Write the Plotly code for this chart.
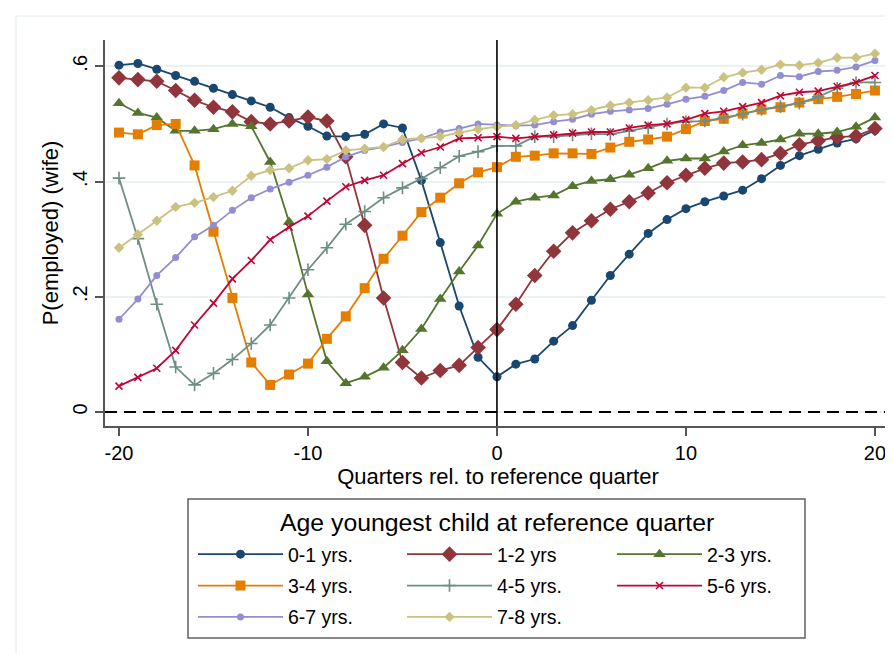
import plotly.graph_objects as go

quarters = list(range(-20, 21))

age_0_1 = [0.602, 0.605, 0.595, 0.584, 0.574, 0.562, 0.551, 0.540, 0.529, 0.511, 0.496,
           0.479, 0.478, 0.482, 0.500, 0.493, 0.402, 0.294, 0.184, 0.095, 0.061,
           0.083, 0.092, 0.123, 0.150, 0.194, 0.237, 0.274, 0.310, 0.334, 0.353,
           0.365, 0.375, 0.385, 0.405, 0.428, 0.445, 0.456, 0.467, 0.474, 0.489]
age_1_2 = [0.580, 0.577, 0.574, 0.558, 0.541, 0.529, 0.521, 0.504, 0.500, 0.505, 0.512,
           0.505, 0.443, 0.324, 0.198, 0.086, 0.059, 0.072, 0.081, 0.112, 0.143,
           0.187, 0.237, 0.279, 0.311, 0.332, 0.352, 0.365, 0.380, 0.398, 0.411,
           0.423, 0.432, 0.434, 0.438, 0.449, 0.464, 0.471, 0.477, 0.479, 0.492]
age_2_3 = [0.536, 0.519, 0.511, 0.488, 0.488, 0.491, 0.500, 0.496, 0.434, 0.330, 0.204,
           0.088, 0.050, 0.061, 0.077, 0.107, 0.144, 0.196, 0.244, 0.289, 0.344,
           0.365, 0.372, 0.376, 0.392, 0.401, 0.404, 0.412, 0.423, 0.436, 0.440,
           0.440, 0.452, 0.463, 0.467, 0.473, 0.483, 0.483, 0.486, 0.495, 0.511]
age_3_4 = [0.485, 0.482, 0.498, 0.500, 0.428, 0.313, 0.198, 0.086, 0.047, 0.065, 0.084,
           0.127, 0.166, 0.215, 0.266, 0.306, 0.347, 0.372, 0.397, 0.416, 0.425,
           0.443, 0.445, 0.449, 0.449, 0.448, 0.459, 0.469, 0.473, 0.478, 0.491,
           0.505, 0.509, 0.518, 0.525, 0.529, 0.537, 0.543, 0.547, 0.552, 0.558]
age_4_5 = [0.406, 0.301, 0.187, 0.078, 0.047, 0.067, 0.091, 0.119, 0.151, 0.198, 0.247,
           0.285, 0.326, 0.348, 0.372, 0.389, 0.405, 0.424, 0.444, 0.452, 0.462,
           0.462, 0.478, 0.478, 0.481, 0.483, 0.482, 0.488, 0.493, 0.500, 0.504,
           0.505, 0.511, 0.517, 0.525, 0.530, 0.536, 0.547, 0.562, 0.572, 0.572]
age_5_6 = [0.045, 0.060, 0.076, 0.107, 0.151, 0.189, 0.231, 0.263, 0.299, 0.321, 0.340,
           0.366, 0.391, 0.402, 0.411, 0.431, 0.450, 0.460, 0.475, 0.476, 0.478,
           0.475, 0.478, 0.481, 0.484, 0.486, 0.486, 0.493, 0.498, 0.500, 0.507,
           0.518, 0.522, 0.530, 0.537, 0.549, 0.555, 0.557, 0.565, 0.572, 0.584]
age_6_7 = [0.161, 0.196, 0.237, 0.268, 0.304, 0.324, 0.350, 0.372, 0.387, 0.399, 0.411,
           0.425, 0.443, 0.454, 0.460, 0.468, 0.475, 0.486, 0.492, 0.500, 0.498,
           0.497, 0.498, 0.504, 0.508, 0.517, 0.522, 0.524, 0.527, 0.534, 0.543,
           0.548, 0.558, 0.572, 0.569, 0.584, 0.582, 0.591, 0.593, 0.599, 0.610]
age_7_8 = [0.285, 0.308, 0.332, 0.356, 0.363, 0.373, 0.384, 0.410, 0.420, 0.423, 0.437,
           0.439, 0.454, 0.457, 0.460, 0.473, 0.475, 0.478, 0.485, 0.491, 0.495,
           0.498, 0.507, 0.515, 0.517, 0.524, 0.532, 0.537, 0.541, 0.546, 0.563,
           0.563, 0.581, 0.589, 0.594, 0.603, 0.602, 0.606, 0.615, 0.615, 0.622]

series_labels = ["0-1 yrs.", "1-2 yrs", "2-3 yrs.", "3-4 yrs.", "4-5 yrs.",
                 "5-6 yrs.", "6-7 yrs.", "7-8 yrs."]
series_values = [age_0_1, age_1_2, age_2_3, age_3_4, age_4_5, age_5_6, age_6_7, age_7_8]
colors = ["#1a476f", "#90353b", "#55752f", "#e37e00", "#6e8e84", "#c10534",
          "#938dd2", "#cac27e"]
symbols = ["circle", "diamond", "triangle-up", "square", "cross-thin", "x-thin",
           "circle", "diamond"]
sizes = [9, 12, 11, 10, 9, 7, 7, 8]
legend_ids = ["legend", "legend2", "legend3"]  # three legend columns

tick_x = [-20, -10, 0, 10, 20]
tick_x_text = ["-20", "-10", "0", "10", "20"]
tick_y = [0, 0.2, 0.4, 0.6]
tick_y_text = ["0", ".2", ".4", ".6"]

FONT = "Liberation Sans, Arial, sans-serif"
L, R, T, B = 97, 10, 32, 235
W, H = 893, 653
PW, PH = W - L - R, H - T - B


def px_x(p):  # pixel -> paper x
    return (p - L) / PW


def px_y(p):  # pixel -> paper y
    return (H - B - p) / PH


fig = go.Figure()
for i, (lab, vals, col, sym, sz) in enumerate(zip(series_labels, series_values,
                                                   colors, symbols, sizes)):
    thin = sym.endswith("-thin")
    fig.add_trace(go.Scatter(
        x=quarters, y=vals, mode="lines+markers", name=lab,
        legend=legend_ids[i % 3], legendgroup=lab,
        line=dict(color=col, width=1.8),
        marker=dict(symbol=sym, size=sz, color=col,
                    line=dict(color=col, width=1.6 if thin else 0)),
    ))

# reference lines
fig.add_shape(type="line", xref="x", yref="paper", x0=0, x1=0, y0=0, y1=1,
              line=dict(color="black", width=1.6), layer="above")
fig.add_shape(type="line", xref="paper", yref="y", x0=0, x1=1, y0=0, y1=0,
              line=dict(color="black", width=1.8, dash="12px,7px"), layer="above")
# faint outer graph-region border
fig.add_shape(type="rect", xref="paper", yref="paper",
              x0=px_x(8), x1=px_x(W + 20), y0=px_y(H + 20), y1=px_y(8),
              line=dict(color="#e4eaec", width=1), layer="below")
# legend frame
fig.add_shape(type="rect", xref="paper", yref="paper",
              x0=px_x(180), x1=px_x(797), y0=px_y(630), y1=px_y(491),
              line=dict(color="#606060", width=1.5), fillcolor="rgba(0,0,0,0)")
fig.add_annotation(text="Age youngest child at reference quarter",
                   xref="paper", yref="paper", x=px_x(488.5), y=px_y(514),
                   xanchor="center", yanchor="middle", showarrow=False,
                   font=dict(size=24.8, family=FONT, color="black"))

leg_common = dict(orientation="v", xanchor="left", yanchor="top",
                  bgcolor="rgba(0,0,0,0)", borderwidth=0, itemwidth=85,
                  traceorder="grouped", tracegroupgap=3,
                  font=dict(size=19.5, family=FONT, color="black"))
legend_x = [185, 394, 604]
legend_top = 527

fig.update_layout(
    width=W, height=H,
    margin=dict(l=L, r=R, t=T, b=B, autoexpand=False),
    paper_bgcolor="white", plot_bgcolor="white",
    font=dict(family=FONT, size=20, color="black"),
    showlegend=True,
    legend=dict(x=px_x(legend_x[0]), y=px_y(legend_top), **leg_common),
    legend2=dict(x=px_x(legend_x[1]), y=px_y(legend_top), **leg_common),
    legend3=dict(x=px_x(legend_x[2]), y=px_y(legend_top), **leg_common),
    xaxis=dict(
        range=[-20.74, 20.85], tickvals=tick_x, ticktext=tick_x_text,
        ticks="outside", ticklen=8,
        tickwidth=1.5, tickcolor="#555", showline=True, linecolor="#555",
        linewidth=1.5, showgrid=False, zeroline=False,
        tickfont=dict(size=20, family=FONT),
        title=dict(text="Quarters rel. to reference quarter",
                   font=dict(size=22, family=FONT), standoff=2),
    ),
    yaxis=dict(
        range=[-0.0243, 0.6457], tickvals=tick_y, ticktext=tick_y_text,
        ticks="outside", ticklen=8, tickwidth=1.5, tickcolor="#555",
        showline=True, linecolor="#555", linewidth=1.5,
        showgrid=True, gridcolor="#eaf2f3", gridwidth=1.5, zeroline=False,
        tickangle=-90, tickfont=dict(size=20, family=FONT),
        title=dict(text="P(employed) (wife)", font=dict(size=22, family=FONT),
                   standoff=5),
    ),
)

fig.write_html("out.html")
